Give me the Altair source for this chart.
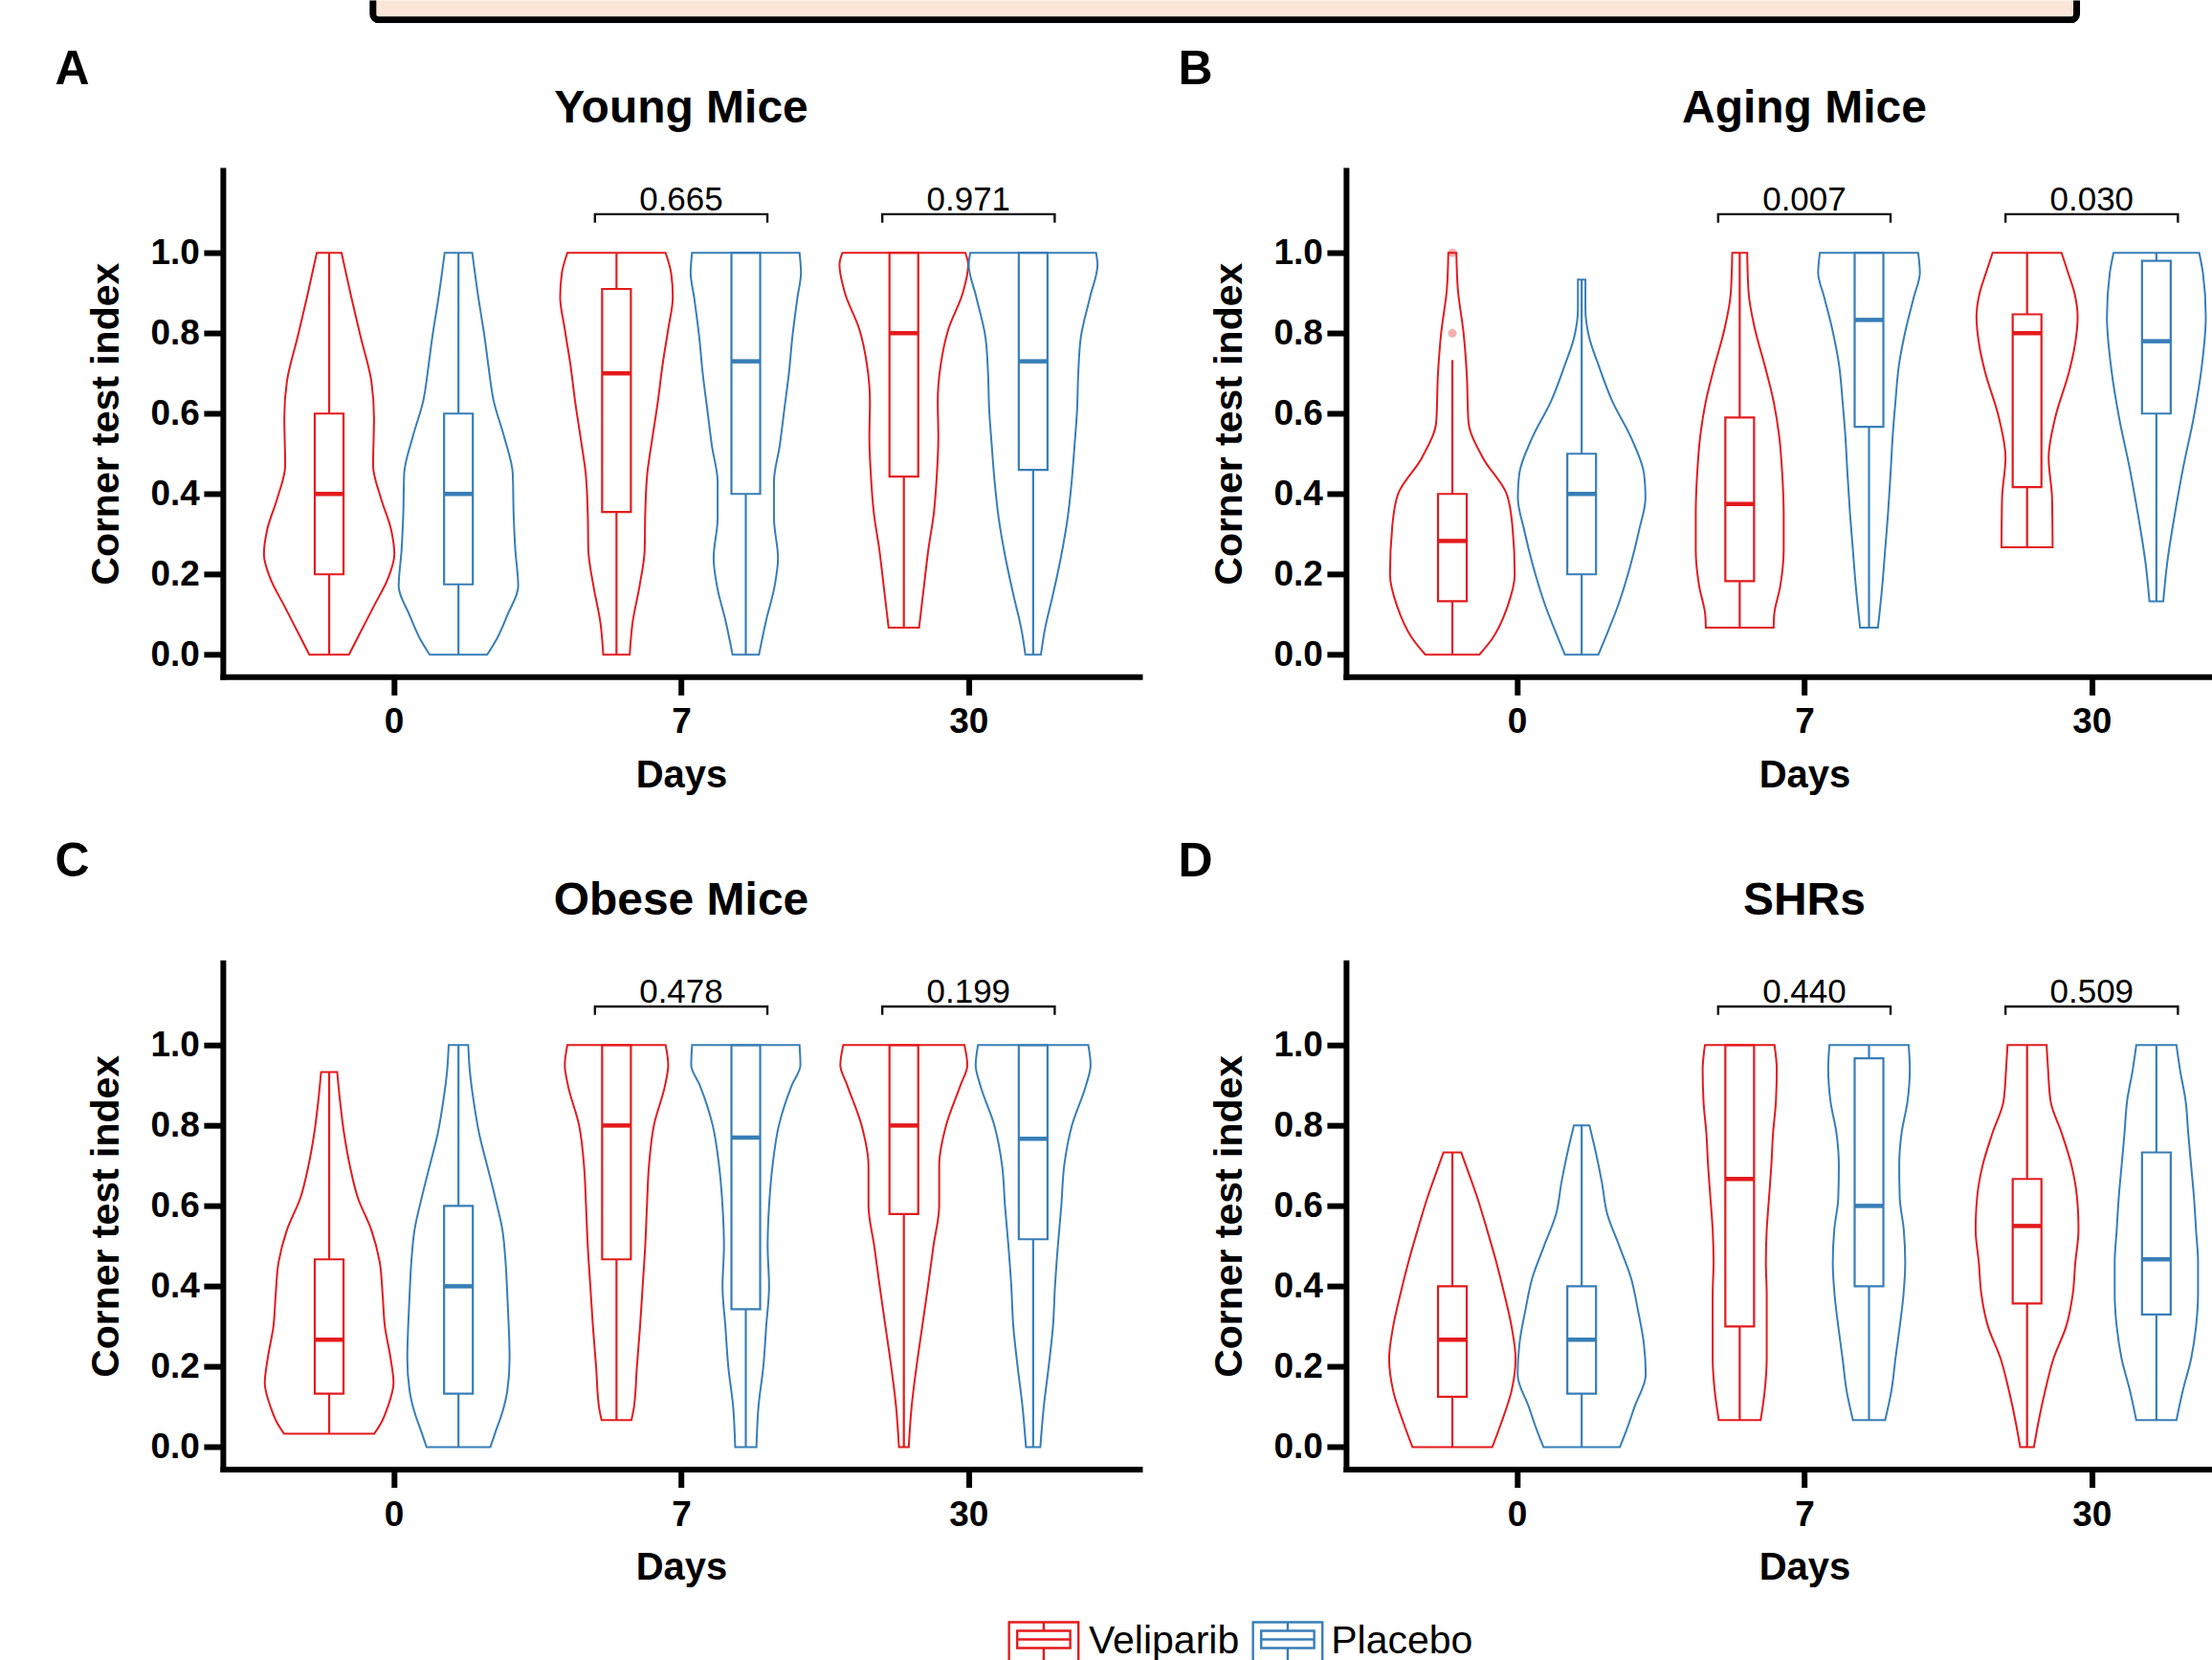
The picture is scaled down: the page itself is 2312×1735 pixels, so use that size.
import altair as alt
import pandas as pd

RED = "#E41A1C"
BLUE = "#377EB8"
FONT = "Liberation Sans"
HEADER_FILL = "#FBE5D6"

groups = ["Veliparib", "Placebo"]
day_labels = ["0", "7", "30"]
panel_letters = ["A", "B", "C", "D"]
panel_titles = ["Young Mice", "Aging Mice", "Obese Mice", "SHRs"]

# ---------------- violin outlines: levels (y) and half-widths (x units) ----------------
# order per panel: day0 Veliparib, day0 Placebo, day7 Veliparib, day7 Placebo, day30 Veliparib, day30 Placebo
A0V_lv = [0, 0.06, 0.12, 0.19, 0.25, 0.31, 0.39, 0.47, 0.59, 0.68, 0.79, 0.89, 1.0]
A0V_hw = [0.069, 0.112, 0.155, 0.205, 0.227, 0.216, 0.18, 0.153, 0.156, 0.147, 0.11, 0.077, 0.043]
A0P_lv = [0, 0.04, 0.10, 0.17, 0.26, 0.35, 0.45, 0.54, 0.63, 0.72, 0.79, 0.89, 1.0]
A0P_hw = [0.10, 0.134, 0.171, 0.208, 0.198, 0.192, 0.189, 0.16, 0.123, 0.104, 0.091, 0.069, 0.048]
A7V_lv = [0, 0.08, 0.17, 0.26, 0.35, 0.45, 0.54, 0.63, 0.72, 0.81, 0.89, 0.95, 1.0]
A7V_hw = [0.046, 0.056, 0.08, 0.098, 0.10, 0.107, 0.125, 0.144, 0.16, 0.18, 0.196, 0.19, 0.171]
A7P_lv = [0, 0.08, 0.17, 0.24, 0.34, 0.43, 0.52, 0.61, 0.70, 0.79, 0.89, 0.95, 1.0]
A7P_hw = [0.046, 0.069, 0.10, 0.112, 0.098, 0.098, 0.118, 0.134, 0.15, 0.162, 0.18, 0.192, 0.187]
A30V_lv = [0.067, 0.17, 0.26, 0.35, 0.45, 0.54, 0.63, 0.72, 0.81, 0.90, 0.97, 1.0]
A30V_hw = [0.053, 0.07, 0.085, 0.104, 0.115, 0.12, 0.118, 0.128, 0.155, 0.205, 0.224, 0.214]
A30P_lv = [0, 0.06, 0.15, 0.24, 0.34, 0.43, 0.52, 0.61, 0.70, 0.79, 0.89, 0.97, 1.0]
A30P_hw = [0.027, 0.04, 0.069, 0.096, 0.12, 0.134, 0.144, 0.153, 0.157, 0.166, 0.198, 0.224, 0.219]

B0V_lv = [0, 0.04, 0.12, 0.20, 0.32, 0.40, 0.49, 0.58, 0.70, 0.80, 0.91, 1.0]
B0V_hw = [0.094, 0.139, 0.192, 0.217, 0.209, 0.189, 0.106, 0.056, 0.05, 0.039, 0.019, 0.014]
B0P_lv = [0, 0.05, 0.125, 0.22, 0.31, 0.39, 0.45, 0.54, 0.63, 0.72, 0.79, 0.86, 0.933]
B0P_hw = [0.058, 0.087, 0.128, 0.169, 0.20, 0.222, 0.217, 0.172, 0.107, 0.059, 0.026, 0.013, 0.013]
B7V_lv = [0.067, 0.10, 0.17, 0.26, 0.35, 0.45, 0.54, 0.63, 0.72, 0.81, 0.90, 1.0]
B7V_hw = [0.118, 0.12, 0.141, 0.153, 0.153, 0.148, 0.138, 0.118, 0.087, 0.053, 0.031, 0.026]
B7P_lv = [0.067, 0.17, 0.26, 0.35, 0.45, 0.54, 0.63, 0.72, 0.81, 0.89, 0.95, 1.0]
B7P_hw = [0.031, 0.046, 0.056, 0.066, 0.075, 0.082, 0.092, 0.104, 0.128, 0.156, 0.177, 0.171]
B30V_lv = [0.267, 0.39, 0.49, 0.587, 0.706, 0.76, 0.841, 0.90, 0.95, 1.0]
B30V_hw = [0.089, 0.087, 0.075, 0.097, 0.147, 0.164, 0.176, 0.165, 0.143, 0.12]
B30P_lv = [0.133, 0.23, 0.349, 0.468, 0.587, 0.706, 0.841, 0.95, 1.0]
B30P_hw = [0.024, 0.038, 0.064, 0.094, 0.129, 0.156, 0.172, 0.162, 0.149]

C0V_lv = [0.033, 0.063, 0.10, 0.16, 0.22, 0.30, 0.38, 0.46, 0.54, 0.62, 0.70, 0.78, 0.86, 0.933]
C0V_hw = [0.157, 0.183, 0.204, 0.224, 0.214, 0.194, 0.186, 0.176, 0.147, 0.10, 0.072, 0.052, 0.038, 0.028]
C0P_lv = [0, 0.04, 0.08, 0.14, 0.22, 0.30, 0.38, 0.46, 0.54, 0.62, 0.70, 0.78, 0.86, 0.94, 1.0]
C0P_hw = [0.111, 0.13, 0.15, 0.17, 0.178, 0.175, 0.17, 0.164, 0.153, 0.128, 0.10, 0.072, 0.053, 0.039, 0.034]
C7V_lv = [0.067, 0.1, 0.2, 0.3, 0.4, 0.5, 0.6, 0.7, 0.8, 0.9, 0.95, 1.0]
C7V_hw = [0.052, 0.061, 0.071, 0.082, 0.091, 0.10, 0.106, 0.113, 0.13, 0.169, 0.18, 0.171]
C7P_lv = [0, 0.1, 0.2, 0.3, 0.4, 0.5, 0.6, 0.7, 0.8, 0.9, 0.95, 1.0]
C7P_hw = [0.037, 0.044, 0.061, 0.071, 0.081, 0.076, 0.081, 0.093, 0.115, 0.16, 0.19, 0.187]
C30V_lv = [0, 0.1, 0.2, 0.3, 0.4, 0.5, 0.6, 0.7, 0.8, 0.9, 0.95, 1.0]
C30V_hw = [0.017, 0.027, 0.044, 0.064, 0.084, 0.103, 0.123, 0.123, 0.147, 0.197, 0.221, 0.211]
C30P_lv = [0, 0.1, 0.2, 0.3, 0.4, 0.5, 0.6, 0.7, 0.8, 0.9, 0.95, 1.0]
C30P_hw = [0.025, 0.037, 0.054, 0.069, 0.076, 0.086, 0.098, 0.108, 0.135, 0.184, 0.20, 0.192]

D0V_lv = [0, 0.06, 0.14, 0.22, 0.30, 0.38, 0.46, 0.54, 0.62, 0.685, 0.733]
D0V_hw = [0.139, 0.17, 0.206, 0.22, 0.206, 0.181, 0.153, 0.121, 0.087, 0.055, 0.031]
D0P_lv = [0, 0.046, 0.10, 0.18, 0.26, 0.34, 0.42, 0.50, 0.58, 0.66, 0.74, 0.80]
D0P_hw = [0.133, 0.158, 0.184, 0.223, 0.216, 0.196, 0.172, 0.131, 0.089, 0.07, 0.047, 0.027]
D7V_lv = [0.067, 0.14, 0.22, 0.30, 0.38, 0.46, 0.54, 0.62, 0.70, 0.78, 0.86, 0.94, 1.0]
D7V_hw = [0.073, 0.087, 0.094, 0.094, 0.094, 0.091, 0.094, 0.102, 0.11, 0.116, 0.126, 0.129, 0.121]
D7P_lv = [0.067, 0.14, 0.22, 0.30, 0.38, 0.46, 0.54, 0.62, 0.70, 0.78, 0.86, 0.94, 1.0]
D7P_hw = [0.056, 0.078, 0.092, 0.107, 0.12, 0.126, 0.121, 0.107, 0.105, 0.113, 0.134, 0.142, 0.138]
D30V_lv = [0, 0.06, 0.14, 0.22, 0.30, 0.38, 0.46, 0.54, 0.62, 0.70, 0.78, 0.86, 0.94, 1.0]
D30V_hw = [0.024, 0.039, 0.063, 0.092, 0.136, 0.159, 0.168, 0.179, 0.174, 0.155, 0.121, 0.082, 0.073, 0.068]
D30P_lv = [0.067, 0.14, 0.22, 0.30, 0.38, 0.46, 0.54, 0.62, 0.70, 0.78, 0.86, 0.94, 1.0]
D30P_hw = [0.07, 0.092, 0.121, 0.138, 0.145, 0.145, 0.138, 0.131, 0.121, 0.111, 0.102, 0.082, 0.07]

# ---------------- box-plot statistics ----------------
A_lo = [0, 0, 0, 0, 0.067, 0]
A_q1 = [0.20, 0.175, 0.355, 0.40, 0.443, 0.46]
A_med = [0.40, 0.40, 0.70, 0.73, 0.80, 0.73]
A_q3 = [0.60, 0.60, 0.91, 1.0, 1.0, 1.0]
A_hi = [1.0, 1.0, 1.0, 1.0, 1.0, 1.0]

B_lo = [0, 0, 0.067, 0.067, 0.267, 0.133]
B_q1 = [0.133, 0.20, 0.183, 0.567, 0.417, 0.60]
B_med = [0.283, 0.40, 0.375, 0.833, 0.80, 0.78]
B_q3 = [0.40, 0.50, 0.59, 1.0, 0.847, 0.98]
B_hi = [0.733, 0.933, 1.0, 1.0, 1.0, 1.0]
B_outliers_day0_veliparib = [0.8, 1.0]

C_lo = [0.033, 0, 0.067, 0, 0, 0]
C_q1 = [0.133, 0.133, 0.467, 0.343, 0.58, 0.517]
C_med = [0.267, 0.40, 0.80, 0.77, 0.80, 0.767]
C_q3 = [0.467, 0.60, 1.0, 1.0, 1.0, 1.0]
C_hi = [0.933, 1.0, 1.0, 1.0, 1.0, 1.0]

D_lo = [0, 0, 0.067, 0.067, 0, 0.067]
D_q1 = [0.125, 0.133, 0.30, 0.40, 0.357, 0.33]
D_med = [0.267, 0.267, 0.667, 0.60, 0.55, 0.467]
D_q3 = [0.40, 0.40, 1.0, 0.967, 0.667, 0.733]
D_hi = [0.733, 0.80, 1.0, 1.0, 1.0, 1.0]

# p-values for day 7 and day 30
A_p = ["0.665", "0.971"]
B_p = ["0.007", "0.030"]
C_p = ["0.478", "0.199"]
D_p = ["0.440", "0.509"]

# ---------------- layout constants ----------------
W_LEFT = 958.5
W_RIGHT = 902.5
H = 529.5
XMIN = -0.595
PX_PER_UNIT = W_LEFT / 3.19
YMIN, YMAX = -0.055, 1.205
OFF = 0.225      # dodge of the two groups
BOX_HW = 0.05    # half width of the boxes
BR_HW = 0.30     # half width of the p-value brackets
BR_Y, BR_TICK, P_Y = 1.096, 1.075, 1.106

color_scale = alt.Scale(domain=groups, range=[RED, BLUE])
labels_js = "[" + ",".join("'" + d + "'" for d in day_labels) + "][datum.value]"

X_AXIS = alt.Axis(values=[0, 1, 2], labelExpr=labels_js, title="Days",
                  titleX=W_LEFT / 2, titleY=115.5, titleAlign="center", titleAngle=0,
                  titleBaseline="alphabetic", titleFont=FONT, titleFontSize=40,
                  titleFontWeight="bold", titleColor="black",
                  labelFont=FONT, labelFontSize=37, labelFontWeight="bold",
                  labelColor="black", labelPadding=10.6, labelFlush=False,
                  labelOverlap=False, tickSize=19, tickWidth=6, tickColor="black",
                  domainWidth=6, domainColor="black", domainCap="square", grid=False)
Y_AXIS = alt.Axis(values=[0, 0.2, 0.4, 0.6, 0.8, 1.0], format=".1f",
                  title="Corner test index", titleX=-109.5, titleY=H / 2,
                  titleAngle=270, titleAlign="center", titleBaseline="alphabetic",
                  titleFont=FONT, titleFontSize=41, titleFontWeight="bold",
                  titleColor="black", labelFont=FONT, labelFontSize=37,
                  labelFontWeight="bold", labelColor="black", labelPadding=4.5,
                  labelFlush=False, tickSize=20, tickWidth=6, tickColor="black",
                  domainWidth=6, domainColor="black", domainCap="square", grid=False)


def make_panel(k, lvs, hws, lo, q1, med, q3, hi, pvals, width, outliers=None):
    xmax = XMIN + width / PX_PER_UNIT
    xs = alt.Scale(domain=[XMIN, xmax], nice=False, zero=False)
    ys = alt.Scale(domain=[YMIN, YMAX], nice=False, zero=False)
    X = lambda f: alt.X(f, scale=xs, axis=X_AXIS, title="Days")
    Y = lambda f: alt.Y(f, scale=ys, axis=Y_AXIS, title="Corner test index")

    vrows, wrows, brows = [], [], []
    for i in range(6):
        day = i // 2
        g = groups[i % 2]
        c = day + (-OFF if i % 2 == 0 else OFF)
        for v, w in zip(lvs[i], hws[i]):
            vrows.append({"vid": i, "group": g, "v": v, "xl": c - w, "xr": c + w})
        for a, b in ((lo[i], q1[i]), (q3[i], hi[i])):
            if b > a:
                wrows.append({"group": g, "c": c, "y1": a, "y2": b})
        brows.append({"group": g, "bl": c - BOX_HW, "br": c + BOX_HW,
                      "q1": q1[i], "q3": q3[i], "med": med[i]})
    vdf, wdf, bdf = pd.DataFrame(vrows), pd.DataFrame(wrows), pd.DataFrame(brows)

    stroke = alt.Stroke("group:N", scale=color_scale, legend=None)

    violins = alt.Chart(vdf).mark_area(
        orient="horizontal", interpolate="monotone", fillOpacity=0, strokeWidth=2
    ).encode(y=Y("v:Q"), x=X("xl:Q"), x2="xr:Q", stroke=stroke, detail="vid:N")
    whiskers = alt.Chart(wdf).mark_rule(strokeWidth=2.2).encode(
        x=X("c:Q"), y=Y("y1:Q"), y2="y2:Q", stroke=stroke)
    boxes = alt.Chart(bdf).mark_rect(fillOpacity=0, strokeWidth=2.2).encode(
        x=X("bl:Q"), x2="br:Q", y=Y("q1:Q"), y2="q3:Q", stroke=stroke)
    medians = alt.Chart(bdf).mark_rule(strokeWidth=4.5).encode(
        x=X("bl:Q"), x2="br:Q", y=Y("med:Q"), stroke=stroke)

    layers = [violins, whiskers, boxes, medians]

    if outliers:
        odf = pd.DataFrame({"x": [-OFF] * len(outliers), "v": outliers,
                            "group": [groups[0]] * len(outliers)})
        layers.append(alt.Chart(odf).mark_circle(size=80, opacity=0.35).encode(
            x=X("x:Q"), y=Y("v:Q"),
            color=alt.Color("group:N", scale=color_scale, legend=None)))

    # brackets for day 7 and day 30
    lrows, trows = [], []
    for j, d in enumerate([1, 2]):
        pts = [(d - BR_HW, BR_TICK), (d - BR_HW, BR_Y), (d + BR_HW, BR_Y), (d + BR_HW, BR_TICK)]
        for n, (px, py) in enumerate(pts):
            lrows.append({"b": j, "n": n, "x": px, "y": py})
        trows.append({"x": d, "y": P_Y, "t": pvals[j]})
    ldf, tdf = pd.DataFrame(lrows), pd.DataFrame(trows)
    layers.append(alt.Chart(ldf).mark_line(color="#111111", strokeWidth=2.4).encode(
        x=X("x:Q"), y=Y("y:Q"), detail="b:N", order="n:Q"))
    layers.append(alt.Chart(tdf).mark_text(
        font=FONT, fontSize=35, color="black", baseline="alphabetic", align="center"
    ).encode(x=X("x:Q"), y=Y("y:Q"), text="t:N"))

    # panel letter and panel name
    layers.append(alt.Chart(pd.DataFrame({"t": [panel_letters[k]]})).mark_text(
        font=FONT, fontSize=50, fontWeight="bold", color="black",
        align="left", baseline="alphabetic"
    ).encode(text="t:N", x=alt.value(-175.5), y=alt.value(-90.2)))
    layers.append(alt.Chart(pd.DataFrame({"t": [panel_titles[k]]})).mark_text(
        font=FONT, fontSize=48, fontWeight="bold", color="black",
        align="center", baseline="alphabetic"
    ).encode(text="t:N", x=alt.value(W_LEFT / 2), y=alt.value(-50.3)))

    return alt.layer(*layers).properties(width=width, height=H)


pA = make_panel(0, [A0V_lv, A0P_lv, A7V_lv, A7P_lv, A30V_lv, A30P_lv],
                [A0V_hw, A0P_hw, A7V_hw, A7P_hw, A30V_hw, A30P_hw],
                A_lo, A_q1, A_med, A_q3, A_hi, A_p, W_LEFT)
pB = make_panel(1, [B0V_lv, B0P_lv, B7V_lv, B7P_lv, B30V_lv, B30P_lv],
                [B0V_hw, B0P_hw, B7V_hw, B7P_hw, B30V_hw, B30P_hw],
                B_lo, B_q1, B_med, B_q3, B_hi, B_p, W_RIGHT,
                outliers=B_outliers_day0_veliparib)
pC = make_panel(2, [C0V_lv, C0P_lv, C7V_lv, C7P_lv, C30V_lv, C30P_lv],
                [C0V_hw, C0P_hw, C7V_hw, C7P_hw, C30V_hw, C30P_hw],
                C_lo, C_q1, C_med, C_q3, C_hi, C_p, W_LEFT)
pD = make_panel(3, [D0V_lv, D0P_lv, D7V_lv, D7P_lv, D30V_lv, D30P_lv],
                [D0V_hw, D0P_hw, D7V_hw, D7P_hw, D30V_hw, D30P_hw],
                D_lo, D_q1, D_med, D_q3, D_hi, D_p, W_RIGHT)

grid = alt.concat(pA, pB, pC, pD, columns=2,
                  spacing={"row": 298.5, "column": 215.5}, bounds="flush")

# ---------------- header box (top of the figure, cut off by the frame) ----------------
PLOT_LEFT = 232.5
FIG_X = [PLOT_LEFT, 2312]
FIG_W = 2312 - PLOT_LEFT
header_df = pd.DataFrame({"x0": [389.5], "x1": [2171.0], "y0": [-10.0], "y1": [20.5]})
header = alt.Chart(header_df).mark_rect(
    clip=True, fill=HEADER_FILL, stroke="black", strokeWidth=7, cornerRadius=6
).encode(
    x=alt.X("x0:Q", scale=alt.Scale(domain=FIG_X, nice=False, zero=False), axis=None),
    x2="x1:Q",
    y=alt.Y("y0:Q", scale=alt.Scale(domain=[24, 0], nice=False, zero=False), axis=None),
    y2="y1:Q",
).properties(width=FIG_W, height=24)

# ---------------- legend (bottom of the figure) ----------------
LEG_TOP = 1680.8
leg_scale_x = alt.Scale(domain=FIG_X, nice=False, zero=False)
leg_scale_y = alt.Scale(domain=[1735, LEG_TOP], nice=False, zero=False)
legend_icon_x = [1090.9, 1346.0]
legend_text_x = [1138.0, 1391.4]
icon = pd.DataFrame({
    "group": groups,
    "c": legend_icon_x,
    "ol": [c - 36.3 for c in legend_icon_x], "or": [c + 36.3 for c in legend_icon_x],
    "il": [c - 27.7 for c in legend_icon_x], "ir": [c + 27.7 for c in legend_icon_x],
    "tx": legend_text_x,
})
icon["otop"], icon["obot"] = 1694.0, 1760.0
icon["itop"], icon["ibot"], icon["imed"] = 1703.0, 1721.0, 1712.0
icon["ty"] = 1726.5
leg_stroke = alt.Stroke("group:N", scale=color_scale, legend=None)
lx = lambda f: alt.X(f, scale=leg_scale_x, axis=None)
ly = lambda f: alt.Y(f, scale=leg_scale_y, axis=None)
leg = alt.layer(
    alt.Chart(icon).mark_rect(clip=True, fillOpacity=0, strokeWidth=2.4).encode(
        x=lx("ol:Q"), x2="or:Q", y=ly("otop:Q"), y2="obot:Q", stroke=leg_stroke),
    alt.Chart(icon).mark_rect(clip=True, fillOpacity=0, strokeWidth=2.4).encode(
        x=lx("il:Q"), x2="ir:Q", y=ly("itop:Q"), y2="ibot:Q", stroke=leg_stroke),
    alt.Chart(icon).mark_rule(clip=True, strokeWidth=2.4).encode(
        x=lx("il:Q"), x2="ir:Q", y=ly("imed:Q"), stroke=leg_stroke),
    alt.Chart(icon).mark_rule(clip=True, strokeWidth=2.4).encode(
        x=lx("c:Q"), y=ly("otop:Q"), y2="itop:Q", stroke=leg_stroke),
    alt.Chart(icon).mark_rule(clip=True, strokeWidth=2.4).encode(
        x=lx("c:Q"), y=ly("ibot:Q"), y2="obot:Q", stroke=leg_stroke),
    alt.Chart(icon).mark_text(font=FONT, fontSize=41, color="black",
                              align="left", baseline="alphabetic").encode(
        x=lx("tx:Q"), y=ly("ty:Q"), text="group:N"),
).properties(width=FIG_W, height=1735 - LEG_TOP)

chart = alt.vconcat(header, grid, leg, spacing=22.8).properties(
    padding={"left": 57, "top": 0, "right": 0, "bottom": 0}
).configure(font=FONT).configure_view(strokeWidth=0)

chart.save("out.html", embed_options={"renderer": "svg", "actions": False})
